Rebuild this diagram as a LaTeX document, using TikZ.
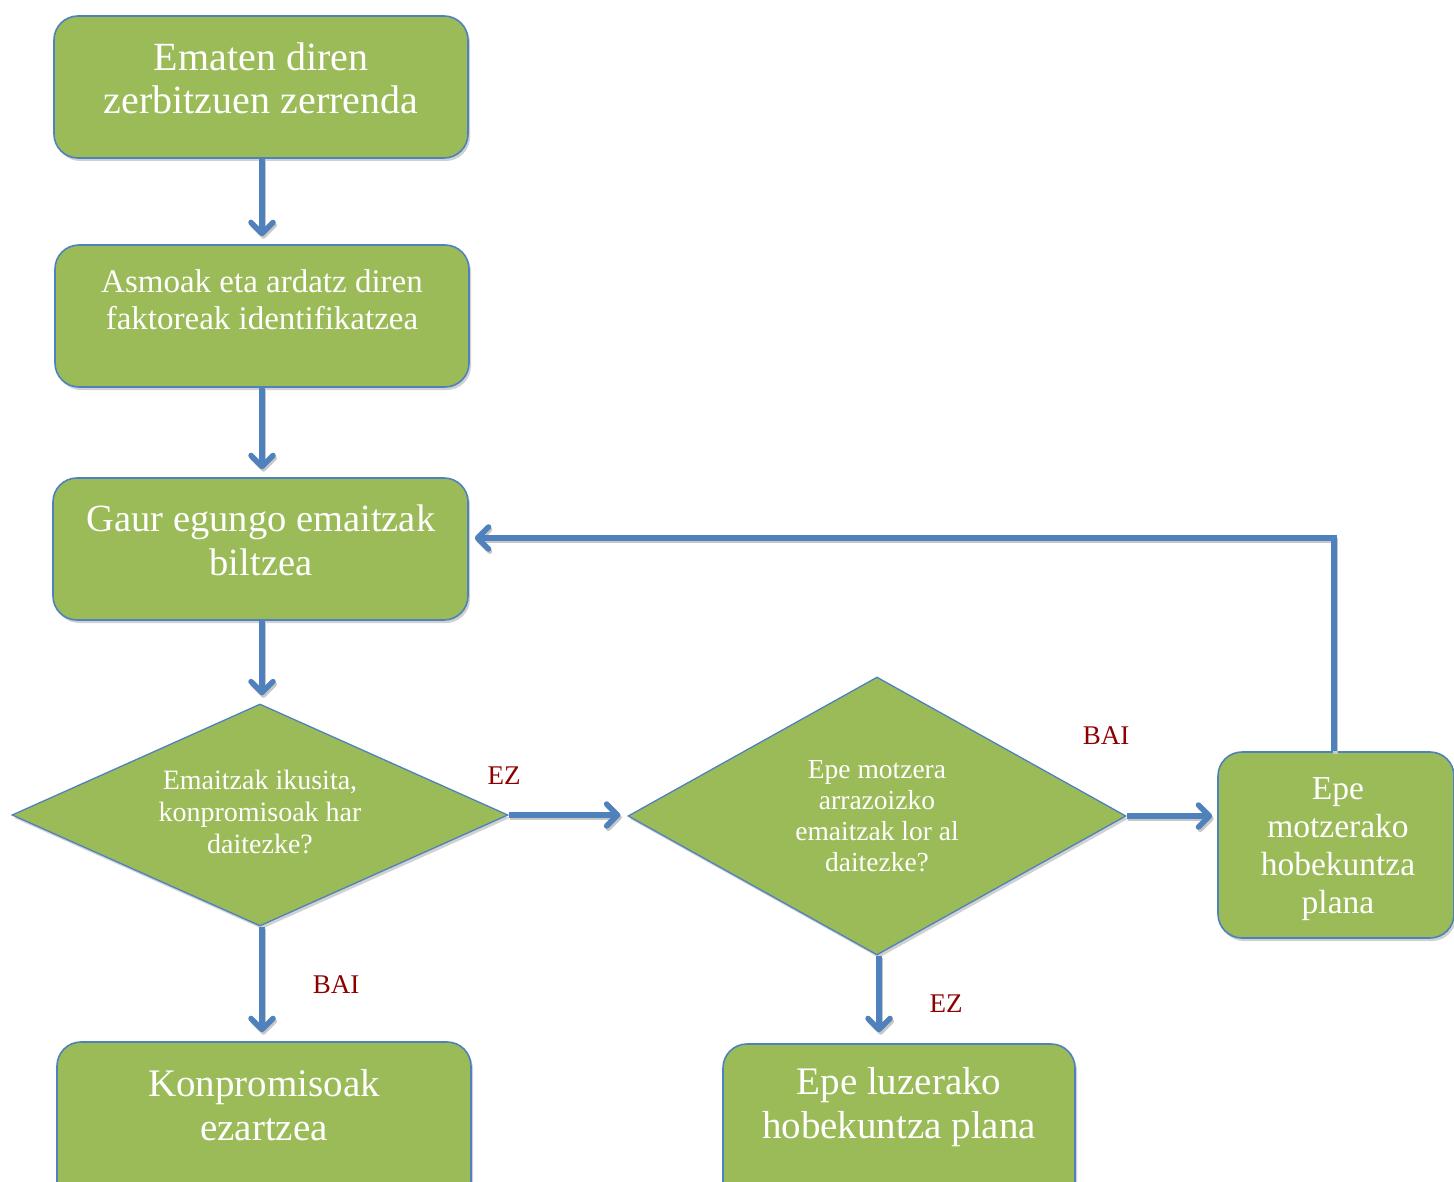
\documentclass[tikz,border=0pt]{standalone}
\usepackage{fontspec}
\setmainfont{Liberation Serif}
\usetikzlibrary{arrows.meta,shapes.geometric,shadows}
\definecolor{boxgreen}{HTML}{9BBB59}
\definecolor{edgeblue}{HTML}{4F81BD}
\definecolor{lblred}{RGB}{140,0,0}
\tikzset{
  x=1pt, y=-1pt,
  shad/.style={drop shadow={shadow xshift=2pt, shadow yshift=-3pt, fill=black!30, opacity=0.6}},
  rbox/.style={shad, draw=edgeblue, line width=1.6pt, fill=boxgreen, rounded corners=24pt, inner sep=0pt},
  dmd/.style={shad, draw=edgeblue, line width=1.3pt, fill=boxgreen, diamond, aspect=2.2, inner sep=0pt},
  txt/.style={text=white, align=center, inner sep=0pt},
  conn/.style={draw=edgeblue, line width=5.5pt,
     -{Straight Barb[length=11pt,width=22pt,line cap=round,line join=round]},
     preaction={draw=black!22, line width=5pt, transform canvas={xshift=1.5pt,yshift=-2.5pt}}},
  lbl/.style={text=lblred, font=\fontsize{27}{30}\selectfont, inner sep=0pt},
}
\begin{document}
\begin{tikzpicture}
\useasboundingbox (0,0) rectangle (1454,1182);
\clip (0,0) rectangle (1454,1182);
% boxes
\node[rbox, minimum width=414pt, minimum height=142pt] (b1) at (261,87) {};
\node[txt, font=\fontsize{40}{43}\selectfont] (t1) at (261,78) {Ematen diren\\zerbitzuen zerrenda};
\node[rbox, minimum width=414pt, minimum height=142pt] (b2) at (262,316) {};
\node[txt, font=\fontsize{33}{37}\selectfont] (t2) at (262,300) {Asmoak eta ardatz diren\\faktoreak identifikatzea};
\node[rbox, minimum width=415pt, minimum height=142pt] (b3) at (260.5,549) {};
\node[txt, font=\fontsize{38.5}{44}\selectfont] (t3) at (261,540) {Gaur egungo emaitzak\\biltzea};
\node[rbox, minimum width=236pt, minimum height=186pt] (b4) at (1336,845) {};
\node[txt, font=\fontsize{33.5}{38}\selectfont] (t4) at (1338,849) {Epe\\motzerako\\hobekuntza\\plana};
\node[rbox, minimum width=414pt, minimum height=180pt] (b5) at (264,1132) {};
\node[txt, font=\fontsize{39}{44}\selectfont] (t5) at (264,1105) {Konpromisoak\\ezartzea};
\node[rbox, minimum width=352pt, minimum height=180pt] (b6) at (899,1134) {};
\node[txt, font=\fontsize{39}{44}\selectfont] (t6) at (899,1107) {Epe luzerako\\hobekuntza plana};
% diamonds
\node[dmd, minimum width=496pt, minimum height=222pt] (d1) at (260,815) {};
\node[txt, font=\fontsize{28}{32}\selectfont] (t7) at (260,812) {Emaitzak ikusita,\\konpromisoak har\\daitezke?};
\node[dmd, minimum width=498pt, minimum height=278pt] (d2) at (877,816) {};
\node[txt, font=\fontsize{27.5}{31}\selectfont] (t8) at (877,816) {Epe motzera\\arrazoizko\\emaitzak lor al\\daitezke?};
% connectors
\coordinate (c0) at (262,0);
\draw[conn] (b1.south -| c0) -- ([yshift=8pt]b2.north -| c0);
\draw[conn] (b2.south -| c0) -- ([yshift=8pt]b3.north -| c0);
\draw[conn] (b3.south -| c0) -- ([yshift=8pt]d1.north -| c0);
\draw[conn] (d1.south -| c0) -- ([yshift=9pt]b5.north -| c0);
\draw[conn] (d1.east) -- ([xshift=-7pt]d1.east -| d2.west);
\draw[conn] (d2.east) -- ([xshift=-5pt]d2.east -| b4.west);
\coordinate (c2) at (879,0);
\draw[conn] (d2.south -| c2) -- ([yshift=11pt]b6.north -| c2);
\coordinate (c1) at (1334,538);
\draw[conn] (b4.north -| c1) -- (c1) -- ([xshift=6pt]c1 -| b3.east);
% labels
\node[lbl] (l1) at (504,776) {EZ};
\node[lbl] (l2) at (336,985) {BAI};
\node[lbl] (l3) at (1106,736) {BAI};
\node[lbl] (l4) at (946,1004) {EZ};
\end{tikzpicture}
\end{document}
